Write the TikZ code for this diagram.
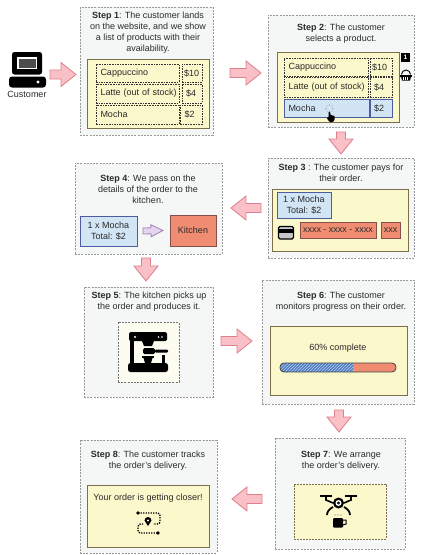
\documentclass[tikz,border=0pt]{standalone}
\usepackage{fontspec}
\setmainfont{Liberation Sans}
\usetikzlibrary{calc,patterns}
\definecolor{boxfill}{HTML}{F5F7F7}
\definecolor{boxline}{HTML}{999999}
\definecolor{panelfill}{HTML}{FBF8CC}
\definecolor{panelline}{HTML}{7D6F4E}
\definecolor{bluefill}{HTML}{D2E5F5}
\definecolor{blueline}{HTML}{4C5C9E}
\definecolor{redfill}{HTML}{F08C72}
\definecolor{redline}{HTML}{85504C}
\definecolor{pinkfill}{HTML}{FAC0C8}
\definecolor{pinkline}{HTML}{DE7F8A}
\definecolor{lilacfill}{HTML}{E6D5EE}
\definecolor{lilacline}{HTML}{A080B8}
\definecolor{textgray}{HTML}{2A2A2A}
\definecolor{creamfill}{HTML}{FDFCF0}
\definecolor{barblue}{HTML}{4F7FC6}
\def\T{\tikztotarget}
\def\S{\tikztostart}
\tikzset{
 stepbox/.style={draw=boxline,fill=boxfill,dash pattern=on 2pt off 1.2pt,line width=.7pt,inner sep=0,outer sep=0},
 panel/.style={draw=panelline,fill=panelfill,line width=1pt,inner sep=0,outer sep=0},
 txt/.style={text=textgray,font=\fontsize{9}{11}\selectfont,align=center,inner sep=0},
 menucell/.style={draw=black!80,dash pattern=on 1.6pt off 1pt,line width=.6pt,anchor=north west,inner xsep=4.5,inner ysep=0,outer sep=0,align=left,text=textgray,font=\fontsize{9}{11}\selectfont},
 bluecell/.style={menucell,solid,draw=blueline,fill=bluefill,line width=.8pt},
 bluebox/.style={draw=blueline,fill=bluefill,line width=.8pt,inner sep=0,outer sep=0,align=center,text=textgray,font=\fontsize{9}{11}\selectfont},
 redbox/.style={draw=redline,fill=redfill,line width=.8pt,inner sep=0,outer sep=0,align=center,text=textgray,font=\fontsize{9}{11}\selectfont},
 flowarrow/.style={draw=pinkline,fill=pinkfill,line width=.8pt,to path={
  ($(\S)!4.5pt!90:(\T)$) -- ($(\T)!15.66pt!-16.7:(\S)$) -- ($(\T)!19.2pt!-38.66:(\S)$) -- (\T)
  -- ($(\T)!19.2pt!38.66:(\S)$) -- ($(\T)!15.66pt!16.7:(\S)$) -- ($(\S)!4.5pt!-90:(\T)$) -- cycle}},
 smallarrow/.style={draw=lilacline,fill=lilacfill,line width=.8pt,to path={
  ($(\S)!3pt!90:(\T)$) -- ($(\T)!12.37pt!-14.04:(\S)$) -- ($(\T)!13.42pt!-26.57:(\S)$) -- (\T)
  -- ($(\T)!13.42pt!26.57:(\S)$) -- ($(\T)!12.37pt!14.04:(\S)$) -- ($(\S)!3pt!-90:(\T)$) -- cycle}}
}
\begin{document}
\begin{tikzpicture}[x=1pt,y=-1pt]
\useasboundingbox (0,0) rectangle (424,555);

%Customer
\fill[black,rounded corners=2.5] (12,52) rectangle (42,74.5);
\fill[white] (17,57) rectangle (37,69);
\fill[black!70] (18.5,58.5) rectangle (35.5,67.5);
\fill[black,rounded corners=3] (9,76.5) rectangle (46,87.5);
\fill[white] (38,82) circle (1.6);
\node[txt] (customer) at (27,94) {Customer};

%Step 1
\node[stepbox,minimum width=133,minimum height=128] (step1) at (146.5,71) {};
\node[txt] (text1) at (148,32.5) {\textbf{Step 1}: The customer lands\\on the website, and we show\\a list of products with their\\availability.};
\node[panel,minimum width=122,minimum height=69] (menu1) at (148,93.5) {};
\node[menucell,text width=74,minimum height=18] (cap1) at (96,64) {Cappuccino};
\node[menucell,text width=16,minimum height=18,inner xsep=2] at (182,64) (capp1) {\$10};
\node[menucell,text width=74,minimum height=19] (lat1) at (96,84) {\mbox{Latte (out of stock)}};
\node[menucell,text width=12,minimum height=19,inner xsep=4] (latp1) at (182,84) {\$4};
\node[menucell,text width=74,minimum height=19] (moc1) at (96,105) {Mocha};
\node[menucell,text width=13,minimum height=19,inner xsep=4.5] (mocp1) at (180,105) {\$2};

%Step 2
\node[stepbox,minimum width=146,minimum height=112] (step2) at (341,71) {};
\node[txt] (text2) at (341,33.5) {\textbf{Step 2}:  The customer\\selects a product.};
\node[panel,minimum width=122,minimum height=70] (menu2) at (338,87) {};
\node[menucell,text width=75,minimum height=18] (cap2) at (284,58) {Cappuccino};
\node[menucell,text width=18,minimum height=18,inner xsep=2] (capp2) at (370,58) {\$10};
\node[menucell,text width=75,minimum height=20] (lat2) at (284,77) {\mbox{Latte (out of stock)}};
\node[menucell,text width=14,minimum height=20,inner xsep=4] (latp2) at (370,77) {\$4};
\node[bluecell,text width=76,minimum height=18] (moc2) at (284,99) {Mocha};
\node[bluecell,text width=14,minimum height=18,inner xsep=4] (mocp2) at (370,99) {\$2};
\node[fill=black,text=white,minimum size=9,inner sep=0,font=\fontsize{6.5}{7}\selectfont\bfseries] (badge) at (405.5,57.5) {1};
%basket
\draw[line width=.9pt] (401.5,74.5) arc (180:360:4.5);
\fill[black] (400,74.5) rectangle (412,76.5);
\fill[black] (401,76.5) -- (411,76.5) -- (410,80.5) -- (402,80.5) -- cycle;
\foreach \bx in {403.5,405.5,407.5} \draw[white,line width=.4pt] (\bx,77) -- (\bx,80);
%cursor
\fill[black,rounded corners=.8] (328.5,111.5) -- (330,111.5) -- (330.5,115) -- (334.8,116) -- (334.5,120) -- (333,122) -- (329.5,122) -- (326.5,117.5) -- (328.6,117.5) -- cycle;
\foreach \ca in {0,45,...,315} \fill[textgray] ($(329.5,108.5)+(\ca:3.5)$) circle (.4);

%Step 3
\node[stepbox,minimum width=146,minimum height=100] (step3) at (341,208) {};
\node[txt] (text3) at (341,172.5) {\textbf{Step 3} : The customer pays for\\their order.};
\node[panel,minimum width=136,minimum height=62] (pay3) at (340,220) {};
\node[bluebox,minimum width=54,minimum height=26] (order3) at (304,205) {1 x Mocha\\Total: \$2};
\node[redbox,minimum width=76,minimum height=16] (card3) at (338,230) {xxxx - xxxx - xxxx};
\node[redbox,minimum width=19,minimum height=16] (cvc3) at (390.5,230) {xxx};
%card icon
\draw[fill=black!22,line width=1.1pt,rounded corners=1.5] (278.5,226.5) rectangle (293.5,239);
\fill[black] (278.5,229) rectangle (293.5,232.5);

%Step 4
\node[stepbox,minimum width=147,minimum height=91] (step4) at (148.5,208.5) {};
\node[txt] (text4) at (148,189) {\textbf{Step 4}: We pass on the\\details of the order to the\\kitchen.};
\node[bluebox,minimum width=57,minimum height=30] (order4) at (108.5,231) {1 x Mocha\\Total: \$2};
\node[redbox,minimum width=46,minimum height=31] (kitchen) at (193,230.5) {Kitchen};
\coordinate (pass4s) at ($(order4.east)+(6,0)$);
\coordinate (pass4e) at ($(kitchen.west)+(-7,0)$);
\draw[smallarrow] (pass4s) to (pass4e);

%Step 5
\node[stepbox,minimum width=129,minimum height=110] (step5) at (148.5,342) {};
\node[txt] (text5) at (149,301.5) {\textbf{Step 5}: The kitchen picks up\\the order and produces it.};
\node[stepbox,draw=black!55,fill=creamfill,minimum width=61,minimum height=60] (machine) at (148.5,352) {};
%coffee machine
\fill[black,rounded corners=1.5] (129,332) rectangle (167,341);
\fill[black] (130,335) rectangle (133.5,364);
\fill[black] (142,341) -- (154,341) -- (152,346) -- (144,346) -- cycle;
\fill[black,rounded corners=1.5] (143,348) rectangle (155,354);
\fill[black,rounded corners=1] (155,349.5) rectangle (168,352.5);
\fill[black] (142,356) rectangle (154,358);
\fill[black] (143.5,358) -- (152.5,358) -- (151,363) -- (145,363) -- cycle;
\fill[black] (161.5,355) rectangle (164.5,364);
\fill[black,rounded corners=2.5] (128,363) rectangle (168,372);
\fill[white] (135,337) circle (1.2) (158.5,337) circle (.9) (162,337) circle (.9);

%Step 6
\node[stepbox,minimum width=152,minimum height=124] (step6) at (338,342) {};
\node[txt] (text6) at (341,301.5) {\textbf{Step 6}: The customer\\monitors progress on their order.};
\node[panel,minimum width=137,minimum height=69] (prog6) at (338.5,360.5) {};
\node[txt] (label6) at (338,348) {60\% complete};
\begin{scope}
\clip[rounded corners=4] (280,363) rectangle (396,372);
\fill[barblue] (280,363) rectangle (353,372);
\fill[pattern=north east lines,pattern color=white!60!barblue] (280,363) rectangle (353,372);
\fill[redfill] (353,363) rectangle (396,372);
\end{scope}
\draw[black!75,line width=.8pt,rounded corners=4] (280,363) rectangle (396,372);

%Step 7
\node[stepbox,minimum width=130,minimum height=111] (step7) at (340,493.5) {};
\node[txt] (text7) at (341,460.5) {\textbf{Step 7}: We arrange\\the order's delivery.};
\node[panel,dash pattern=on 2pt off 1pt,line width=.8pt,minimum width=92,minimum height=55] (drop7) at (340,511.5) {};
%drone
\draw[line width=1.6pt] (320,496) -- (332,496) (345,496) -- (357,496);
\draw[line width=1.6pt] (326,496) -- (326,500) -- (333,503) (351,496) -- (351,500) -- (344,503);
\fill[black] (338.5,503) circle (5.5);
\fill[white] (338.5,503) circle (3);
\fill[black] (338.5,503) circle (1.6);
\draw[line width=1.8pt] (333,507) .. controls (329,509) and (327,512) .. (327,515);
\draw[line width=1.8pt] (344,507) .. controls (348,509) and (350,512) .. (350,515);
%cup
\fill[black,rounded corners=1] (333,518) rectangle (343,527.5);
\draw[line width=1pt] (343,520) -- (346,520) -- (346,524) -- (343,525);
\foreach \sx in {335,338,341} \fill[black!60] (\sx,515) circle (.6);

%Step 8
\node[stepbox,minimum width=137,minimum height=113] (step8) at (148.5,496.5) {};
\node[txt] (text8) at (148,460.5) {\textbf{Step 8}: The customer tracks\\the order's delivery.};
\node[panel,minimum width=122,minimum height=62] (track8) at (148,516) {};
\node[txt] (label8) at (148,498) {Your order is getting closer!};
%route
\draw[line width=1.4pt,dash pattern=on 1.3pt off 1.2pt,rounded corners=2.5] (138,513) -- (160,513) -- (160,524) -- (138,524) -- (138,533) -- (158,533);
\fill[black] (138,513) circle (1.8) (158,533) circle (1.8);
\fill[panelfill] (143.5,516) rectangle (152.5,526);
\fill[black] (148,526) -- (144.5,520.5) arc (180:360:3.5) -- cycle;
\fill[white] (148,520.5) circle (1.2);

%arrows
\coordinate (a0s) at (50,74.5);
\coordinate (a0e) at (76,74.5);
\draw[flowarrow] (a0s) to (a0e);
\coordinate (a1s) at (230,73);
\coordinate (a1e) at (261,73);
\draw[flowarrow] (a1s) to (a1e);
\coordinate (a2s) at (341,132);
\coordinate (a2e) at (341,154);
\draw[flowarrow] (a2s) to (a2e);
\coordinate (a3s) at (261,208);
\coordinate (a3e) at (231,208);
\draw[flowarrow] (a3s) to (a3e);
\coordinate (a4s) at (146,258);
\coordinate (a4e) at (146,281);
\draw[flowarrow] (a4s) to (a4e);
\coordinate (a5s) at (221,341);
\coordinate (a5e) at (252,341);
\draw[flowarrow] (a5s) to (a5e);
\coordinate (a6s) at (339,410);
\coordinate (a6e) at (339,432);
\draw[flowarrow] (a6s) to (a6e);
\coordinate (a7s) at (262,499);
\coordinate (a7e) at (232,499);
\draw[flowarrow] (a7s) to (a7e);

\end{tikzpicture}
\end{document}
